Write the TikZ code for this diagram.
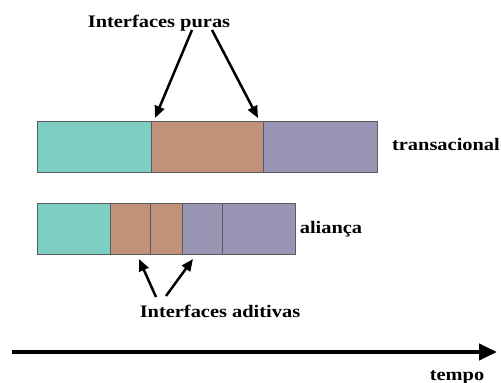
\documentclass[tikz,border=0pt]{standalone}
\usepackage{fontspec}
\setmainfont{Liberation Serif}
\usetikzlibrary{arrows.meta}
\definecolor{cteal}{HTML}{7DCFC3}
\definecolor{cbrown}{HTML}{BF9279}
\definecolor{cpurple}{HTML}{9995B5}
\definecolor{cedge}{HTML}{5A5A60}
\newcommand\widetxt[1]{\scalebox{1.16}[1]{#1}}
\tikzset{
  seg/.style={draw=cedge, line width=0.8pt, inner sep=0pt, minimum height=51pt, anchor=north west},
  lbl/.style={font=\fontsize{17.6}{20}\selectfont\bfseries, inner sep=0pt, anchor=base},
  pointer/.style={line width=2.5pt, -{Triangle[length=12pt,width=10pt]}},
  timeline/.style={line width=4pt, -{Triangle[length=18pt,width=16pt]}}
}
\begin{document}
\begin{tikzpicture}[x=1pt,y=-1pt]
\useasboundingbox (0,0) rectangle (501,383);
% transacional bar
\node[seg, fill=cteal,   minimum width=114pt] (t1) at (37,121) {};
\node[seg, fill=cbrown,  minimum width=112pt] (t2) at (151,121) {};
\node[seg, fill=cpurple, minimum width=114pt] (t3) at (263,121) {};
% alianca bar
\node[seg, fill=cteal,   minimum width=73pt] (a1) at (37,203) {};
\node[seg, fill=cbrown,  minimum width=40pt] (a2) at (110,203) {};
\node[seg, fill=cbrown,  minimum width=32pt] (a3) at (150,203) {};
\node[seg, fill=cpurple, minimum width=40pt] (a4) at (182,203) {};
\node[seg, fill=cpurple, minimum width=73pt] (a5) at (222,203) {};
% labels
\node[lbl] (puras) at (159,27.3) {\widetxt{Interfaces puras}};
\node[lbl] (trans) at (446,150) {\widetxt{transacional}};
\node[lbl] (alianca) at (331,233) {\widetxt{aliança}};
\node[lbl] (aditivas) at (220,317) {\widetxt{Interfaces aditivas}};
\node[lbl] (tempo) at (457,380) {\widetxt{tempo}};
% pointer coordinates
\coordinate (p1s) at (192,30);
\coordinate (p1e) at (155,118);
\coordinate (p2s) at (212,30);
\coordinate (p2e) at (258,118);
\coordinate (q1s) at (156,297);
\coordinate (q1e) at (139,259);
\coordinate (q2s) at (166,296);
\coordinate (q2e) at (193,259);
\draw[pointer] (p1s) -- (p1e);
\draw[pointer] (p2s) -- (p2e);
\draw[pointer] (q1s) -- (q1e);
\draw[pointer] (q2s) -- (q2e);
% time axis
\coordinate (ts) at (12,352);
\coordinate (te) at (497,352);
\draw[timeline] (ts) -- (te);
\end{tikzpicture}
\end{document}
